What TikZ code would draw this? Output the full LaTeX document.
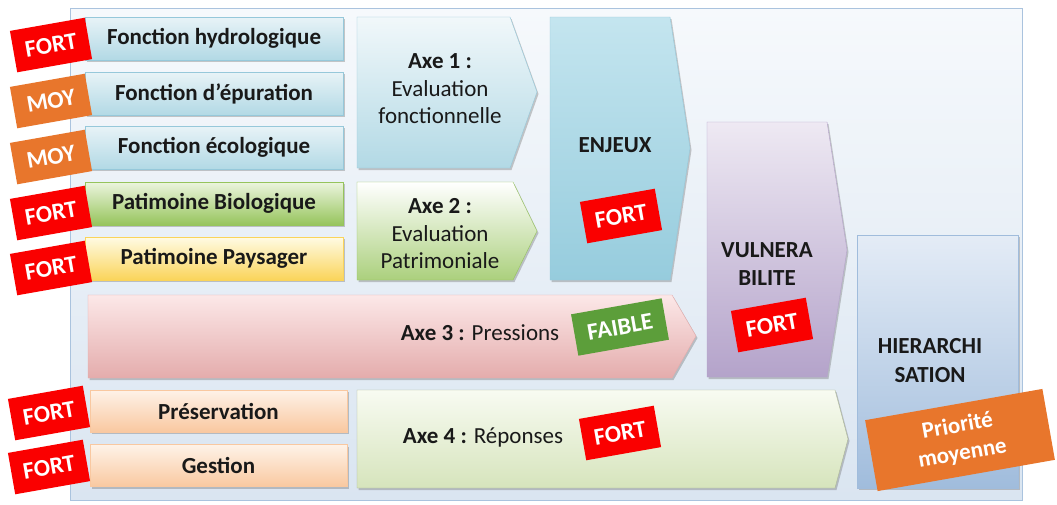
\documentclass[tikz,border=0pt]{standalone}
\usepackage{fontspec}
\setmainfont{Carlito}
\usetikzlibrary{%
  shadows,% drop shadow
  positioning%
}
\definecolor{redlab}{RGB}{250,0,0}
\definecolor{orlab}{RGB}{232,118,44}
\definecolor{grlab}{RGB}{92,158,58}
\definecolor{panline}{RGB}{170,195,222}
\definecolor{pantop}{RGB}{246,249,252}
\definecolor{panbot}{RGB}{218,229,241}
\definecolor{bluetop}{RGB}{232,243,247}
\definecolor{bluebot}{RGB}{178,217,229}
\definecolor{blueline}{RGB}{150,200,218}
\definecolor{greentop}{RGB}{236,245,222}
\definecolor{greenbot}{RGB}{150,196,92}
\definecolor{yeltop}{RGB}{255,251,228}
\definecolor{yelbot}{RGB}{250,212,90}
\definecolor{peachtop}{RGB}{254,242,232}
\definecolor{peachbot}{RGB}{249,200,160}
\definecolor{pinktop}{RGB}{252,232,232}
\definecolor{pinkbot}{RGB}{228,172,172}
\definecolor{lgtop}{RGB}{248,251,242}
\definecolor{lgbot}{RGB}{214,228,188}
\definecolor{purtop}{RGB}{238,233,243}
\definecolor{purbot}{RGB}{180,163,202}
\definecolor{hiertop}{RGB}{228,236,246}
\definecolor{hierbot}{RGB}{160,188,220}
\definecolor{enjtop}{RGB}{196,229,239}
\definecolor{enjbot}{RGB}{150,204,221}
\tikzset{
  shad/.style={drop shadow={shadow xshift=1.5pt,shadow yshift=-2pt,opacity=0.35,fill=black!60}},
  badge/.style={rotate=10,text=white,font=\bfseries\fontsize{24}{26}\selectfont,
    minimum width=76pt,minimum height=42pt,inner sep=0pt},
  fortlab/.style={badge,fill=redlab},
  moylab/.style={badge,fill=orlab},
  fn/.style={shad,minimum width=258pt,minimum height=43pt,
    font=\bfseries\fontsize{23}{25}\selectfont,text=black!90},
  bluebox/.style={fn,draw=blueline,top color=bluetop,bottom color=bluebot},
  txt/.style={align=center,text=black!90,font=\fontsize{23}{27.5}\selectfont}
}
\begin{document}
\begin{tikzpicture}[x=1pt,y=-1pt]
      \useasboundingbox (0,0) rectangle (1057,504);
      \path [draw=panline,top color=pantop,bottom color=panbot] (70,8) rectangle (1022,500);

      \node[bluebox] (hydro) at (214,38.5) {Fonction hydrologique};
      \node[bluebox] (epur) at (214,93.5) {Fonction d’épuration};
      \node[bluebox] (eco) at (214,147.5) {Fonction écologique};
      \node[fn,draw=greenbot,top color=greentop,bottom color=greenbot] (bio) at (214,203.5) {Patimoine Biologique};
      \node[fn,draw=yelbot,top color=yeltop,bottom color=yelbot] (pays) at (214,258.5) {Patimoine Paysager};
      \node[fn,draw=peachbot,top color=peachtop,bottom color=peachbot,minimum width=257pt,minimum height=42pt] (pres) at (218.5,411) {Préservation};
      \node[fn,draw=peachbot,top color=peachtop,bottom color=peachbot,minimum width=257pt,minimum height=42pt] (gest) at (218.5,465.5) {Gestion};

      \path [draw=blueline,shad,top color=bluetop!60!white,bottom color=bluebot] (357,17) -- (510,17) -- (537,92) -- (510,168) -- (357,168) -- cycle;
      \path [draw=greenbot,shad,top color=white,bottom color=greenbot!80!white] (357,182) -- (513,182) -- (537,231) -- (513,280) -- (357,280) -- cycle;
      \path [draw=blueline,shad,top color=enjtop,bottom color=enjbot] (550,17) -- (670,17) -- (690,148) -- (670,280) -- (550,280) -- cycle;
      \path [draw=purbot,shad,top color=purtop,bottom color=purbot] (707,122) -- (827,122) -- (847,250) -- (827,377) -- (707,377) -- cycle;
      \path [draw=pinkbot,shad,top color=pinktop,bottom color=pinkbot] (88,295) -- (672,295) -- (696,336) -- (672,378) -- (88,378) -- cycle;
      \path [draw=lgbot!80!black,shad,top color=lgtop,bottom color=lgbot] (357,390) -- (835,390) -- (848,439) -- (835,488) -- (357,488) -- cycle;
      \path [draw=hierbot,shad,top color=hiertop,bottom color=hierbot] (857,235) rectangle (1018,488);

      \node[txt] (axe1) at (440,89) {\textbf{Axe 1 :}\\Evaluation\\fonctionnelle};
      \node[txt] (axe2) at (440,234) {\textbf{Axe 2 :}\\Evaluation\\Patrimoniale};
      \node[txt,font=\bfseries\fontsize{23}{27}\selectfont] (enj) at (615,145) {ENJEUX};
      \node[txt,font=\bfseries\fontsize{23}{28}\selectfont] (vuln) at (767,264) {VULNERA\\BILITE};
      \node[txt,font=\bfseries\fontsize{23}{29}\selectfont] (hier) at (930,361) {HIERARCHI\\SATION};
      \node[txt] (axe3) at (480,333) {\textbf{Axe 3 :} Pressions};
      \node[txt] (axe4) at (483,437) {\textbf{Axe 4 :} Réponses};

      \node[fortlab] (f1) at (51,45) {FORT};
      \node[moylab] (m2) at (51,101) {MOY};
      \node[moylab] (m3) at (51,157) {MOY};
      \node[fortlab] (f4) at (51,213) {FORT};
      \node[fortlab] (f5) at (51,268) {FORT};
      \node[fortlab] (f6) at (49,413) {FORT};
      \node[fortlab] (f7) at (49,467) {FORT};
      \node[fortlab] (fenj) at (621,216) {FORT};
      \node[badge,fill=grlab,minimum width=92pt] (faible) at (620,327) {FAIBLE};
      \node[fortlab] (fvuln) at (772,325) {FORT};
      \node[fortlab] (faxe4) at (620,433) {FORT};
      \node[moylab,align=center,minimum width=180pt,minimum height=72pt,font=\bfseries\fontsize{23}{28}\selectfont] (prio) at (960,440) {Priorité\\moyenne};
    \end{tikzpicture}
\end{document}
